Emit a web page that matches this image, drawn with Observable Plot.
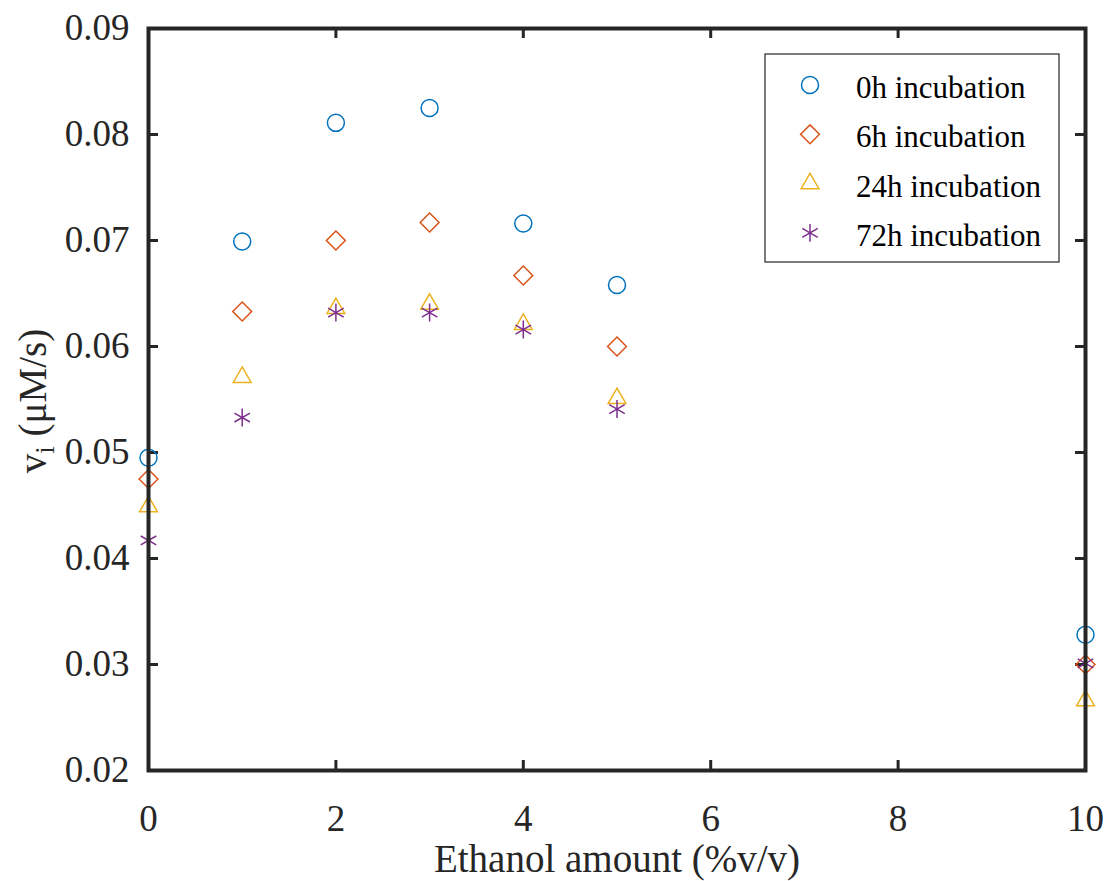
<!DOCTYPE html>
<html>
<head>
<meta charset="utf-8">
<script src="https://cdn.jsdelivr.net/npm/d3@7"></script>
<script src="https://cdn.jsdelivr.net/npm/@observablehq/plot@0.6"></script>
<style>
  html, body { margin: 0; padding: 0; background: white; }
  svg text { font-family: "Liberation Serif", "Times New Roman", serif; }
</style>
</head>
<body>
<div id="chart"></div>
<script>
const ethanol = [0, 1, 2, 3, 4, 5, 10];
const seriesNames = ["0h incubation", "6h incubation", "24h incubation", "72h incubation"];
const v0h  = [0.0495, 0.0699, 0.0811, 0.0825, 0.0716, 0.0658, 0.0328];
const v6h  = [0.0475, 0.0633, 0.0700, 0.0717, 0.0667, 0.0600, 0.0300];
const v24h = [0.0449, 0.0571, 0.0636, 0.0640, 0.0621, 0.0551, 0.0266];
const v72h = [0.0417, 0.0533, 0.0632, 0.0632, 0.0616, 0.0541, 0.0301];
const xTicks = [0, 2, 4, 6, 8, 10];
const yTicks = [0.02, 0.03, 0.04, 0.05, 0.06, 0.07, 0.08, 0.09];
const colors = ["#0072BD", "#D95319", "#EDB120", "#7E2F8E"];
const symbols = ["circle", "diamond2", "triangle2", "asterisk"];

const allSeries = [v0h, v6h, v24h, v72h];
const data = [];
allSeries.forEach((vals, si) => vals.forEach((v, i) => data.push({x: ethanol[i], y: v, series: seriesNames[si]})));

const W = 1107, H = 881, mL = 148, mR = 22, mT = 28, mB = 111;
const pw = W - mL - mR, ph = H - mT - mB;
const ink = "#262626";
const tickLen = 10;
const font = "'Liberation Serif', 'Times New Roman', serif";

const chart = Plot.plot({
  width: W, height: H,
  marginLeft: mL, marginRight: mR, marginTop: mT, marginBottom: mB,
  style: {fontFamily: font, fontSize: "37px", color: ink, background: "white"},
  x: {domain: [0, 10]},
  y: {domain: [0.02, 0.09]},
  color: {domain: seriesNames, range: colors},
  symbol: {domain: seriesNames, range: symbols},
  marks: [
    Plot.axisX({ticks: xTicks, tickSize: 0, tickPadding: 34, label: null, fontSize: 37, fontFamily: font, fill: ink}),
    Plot.axisY({ticks: yTicks, tickSize: 0, tickPadding: 19, label: null, fontSize: 37, fontFamily: font, fill: ink, tickFormat: d => d.toFixed(2)}),
    Plot.ruleX(xTicks, {x: d => d, insetTop: ph - tickLen, stroke: ink, strokeWidth: 3}),
    Plot.ruleX(xTicks, {x: d => d, insetBottom: ph - tickLen, stroke: ink, strokeWidth: 3}),
    Plot.ruleY(yTicks, {y: d => d, insetRight: pw - tickLen, stroke: ink, strokeWidth: 3}),
    Plot.ruleY(yTicks, {y: d => d, insetLeft: pw - tickLen, stroke: ink, strokeWidth: 3}),
    Plot.dot(data, {x: "x", y: "y", symbol: "series", stroke: "series", fill: "none", r: 8.5, strokeWidth: 1.5}),
    Plot.frame({stroke: ink, strokeWidth: 4}),
    Plot.text(["Ethanol amount (%v/v)"], {frameAnchor: "bottom", dy: 101, fontSize: 39, fill: ink, fontFamily: font, lineAnchor: "bottom"})
  ]
});
document.getElementById("chart").appendChild(chart);

const svg = d3.select(chart);
// y-axis label with subscript
const yl = svg.append("text")
  .attr("transform", `translate(46,${mT + ph / 2 + 2}) rotate(-90)`)
  .attr("text-anchor", "middle")
  .attr("font-family", font).attr("font-size", 39).attr("fill", ink);
yl.append("tspan").text("v");
yl.append("tspan").attr("font-size", 27).attr("dy", 8).text("i");
yl.append("tspan").attr("dy", -8).text(" (μM/s)");

// legend
const lg = svg.append("g").attr("text-anchor", "start");
lg.append("rect").attr("x", 765).attr("y", 54).attr("width", 294).attr("height", 208)
  .attr("fill", "white").attr("stroke", ink).attr("stroke-width", 1.2);
const symMap = {circle: d3.symbolCircle, diamond2: d3.symbolDiamond2, triangle2: d3.symbolTriangle2, asterisk: d3.symbolAsterisk};
seriesNames.forEach((name, i) => {
  const cy = 85 + i * 49.3;
  lg.append("path")
    .attr("d", d3.symbol(symMap[symbols[i]], Math.PI * 8.5 * 8.5)())
    .attr("transform", `translate(810,${cy})`)
    .attr("fill", "none").attr("stroke", colors[i]).attr("stroke-width", 1.5);
  lg.append("text").attr("x", 856).attr("y", cy + 13).attr("text-anchor", "start")
    .attr("font-family", font).attr("font-size", 31).attr("fill", "black").text(name);
});
</script>
</body>
</html>
